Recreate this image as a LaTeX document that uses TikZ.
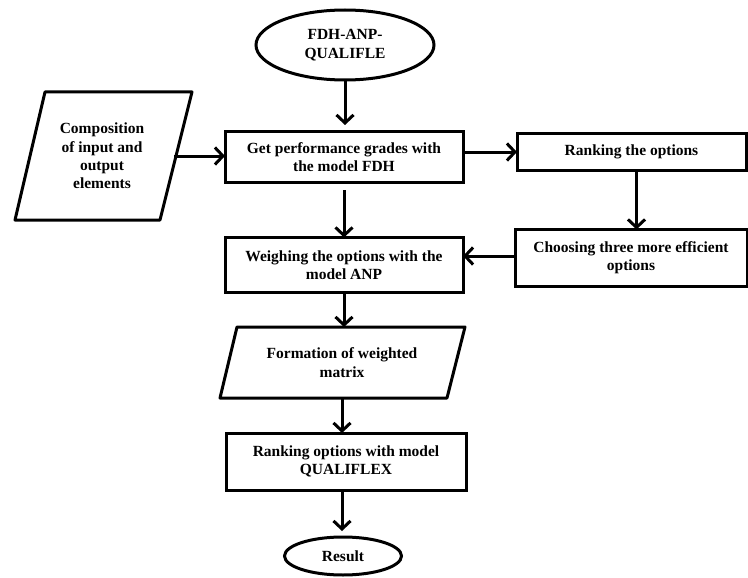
\documentclass[tikz,border=0pt]{standalone}
\usepackage{fontspec}
\setmainfont{Liberation Serif}
\usetikzlibrary{shapes.geometric,arrows.meta}
\begin{document}
\begin{tikzpicture}[x=1pt,y=-1pt,
  every node/.style={font=\fontsize{15.5}{18.3}\selectfont\bfseries,align=center,inner sep=0pt,outer sep=0pt},
  shp/.style={draw,line width=3pt},
  arr/.style={line width=3pt,-{Straight Barb[length=8pt,width=17pt,line width=3pt]}}]
\useasboundingbox (0,0) rectangle (748,578);
\node[shp,ellipse,minimum width=178pt,minimum height=70pt] (start) at (345,45) {FDH-ANP-\\QUALIFLE};
\node[shp,rectangle,minimum width=238pt,minimum height=50pt] (fdh) at (344,157) {Get performance grades with\\the model FDH};
\draw[line width=3pt,line join=round] (45,92) -- (192,92) -- (160,220) -- (15,220) -- cycle;
\node[minimum width=144pt,minimum height=40pt] (comp) at (102,156) {Composition\\of input and\\output\\elements};
\node[shp,rectangle,minimum width=229pt,minimum height=37pt] (rank) at (631.5,152) {Ranking the options};
\node[shp,rectangle,minimum width=232pt,minimum height=57pt] (choose) at (631,258) {Choosing three more efficient\\options};
\node[shp,rectangle,minimum width=238pt,minimum height=55pt] (weigh) at (344,265) {Weighing the options with the\\model ANP};
\draw[line width=3pt,line join=round] (237,327) -- (465,327) -- (447,398) -- (220,398) -- cycle;
\node[minimum width=200pt,minimum height=71pt] (form) at (342,362.5) {Formation of weighted\\matrix};
\node[shp,rectangle,minimum width=240pt,minimum height=57pt] (qual) at (346,461.5) {Ranking options with model\\QUALIFLEX};
\node[shp,ellipse,minimum width=117pt,minimum height=38pt] (result) at (343,556) {Result};
\draw[arr,shorten >=7pt] (start.south) -- (start.south |- fdh.north);
\draw[arr] (comp.east) -- (comp.east -| fdh.west);
\draw[arr] (fdh.east |- rank.west) -- (rank.west);
\draw[arr] ([xshift=5pt]rank.south) -- ([xshift=5pt]rank.south |- choose.north);
\draw[arr] ([yshift=2pt]choose.west) -- ([yshift=2pt]choose.west -| weigh.east);
\draw[arr,shorten <=8pt] (fdh.south) -- (fdh.south |- weigh.north);
\draw[arr] (weigh.south) -- (weigh.south |- form.north);
\draw[arr] (form.south) -- (form.south |- qual.north);
\draw[arr,shorten >=6pt] (form.south |- qual.south) -- (form.south |- result.north);
\end{tikzpicture}
\end{document}
